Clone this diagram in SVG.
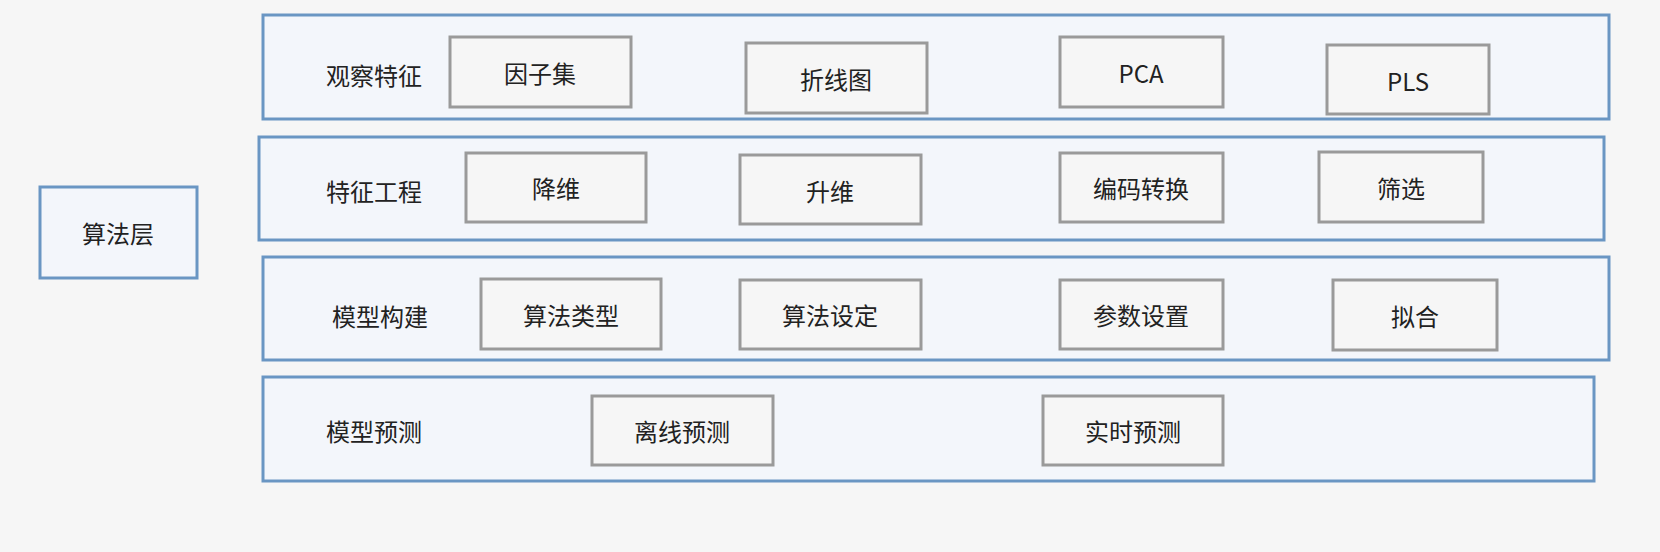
<svg xmlns="http://www.w3.org/2000/svg" width="1660" height="552" viewBox="0 0 1660 552">
<style>
.band{fill:#f3f6fb;stroke:#6a96c3;stroke-width:3}
.box{fill:#f6f6f6;stroke:#9a9a9a;stroke-width:3}
text{font-family:"Noto Sans CJK SC","Liberation Sans",sans-serif;font-size:24px;fill:#222;text-anchor:middle;dominant-baseline:central}
</style>
<rect width="1660" height="552" fill="#f6f6f6"/>
<g id="root"><rect class="band" x="40" y="187" width="157" height="91"/><text x="118" y="232">算法层</text></g>
<g id="band1"><rect class="band" x="263" y="15" width="1346" height="104"/><text x="374" y="74">观察特征</text></g>
<g id="band2"><rect class="band" x="259" y="137" width="1345" height="103"/><text x="374" y="190">特征工程</text></g>
<g id="band3"><rect class="band" x="263" y="257" width="1346" height="103"/><text x="380" y="315">模型构建</text></g>
<g id="band4"><rect class="band" x="263" y="377" width="1331" height="104"/><text x="374" y="430">模型预测</text></g>
<g id="n1"><rect class="box" x="450" y="37" width="181" height="70"/><text x="540" y="72">因子集</text></g>
<g id="n2"><rect class="box" x="746" y="43" width="181" height="70"/><text x="836" y="78">折线图</text></g>
<g id="n3"><rect class="box" x="1060" y="37" width="163" height="70"/><text x="1141" y="72">PCA</text></g>
<g id="n4"><rect class="box" x="1327" y="45" width="162" height="69"/><text x="1408" y="80">PLS</text></g>
<g id="n5"><rect class="box" x="466" y="153" width="180" height="69"/><text x="556" y="187">降维</text></g>
<g id="n6"><rect class="box" x="740" y="155" width="181" height="69"/><text x="830" y="190">升维</text></g>
<g id="n7"><rect class="box" x="1060" y="153" width="163" height="69"/><text x="1141" y="187">编码转换</text></g>
<g id="n8"><rect class="box" x="1319" y="152" width="164" height="70"/><text x="1401" y="187">筛选</text></g>
<g id="n9"><rect class="box" x="481" y="279" width="180" height="70"/><text x="571" y="314">算法类型</text></g>
<g id="n10"><rect class="box" x="740" y="280" width="181" height="69"/><text x="830" y="314">算法设定</text></g>
<g id="n11"><rect class="box" x="1060" y="280" width="163" height="69"/><text x="1141" y="314">参数设置</text></g>
<g id="n12"><rect class="box" x="1333" y="280" width="164" height="70"/><text x="1415" y="315">拟合</text></g>
<g id="n13"><rect class="box" x="592" y="396" width="181" height="69"/><text x="682" y="430">离线预测</text></g>
<g id="n14"><rect class="box" x="1043" y="396" width="180" height="69"/><text x="1133" y="430">实时预测</text></g>
<g id="connectors"></g>
</svg>
